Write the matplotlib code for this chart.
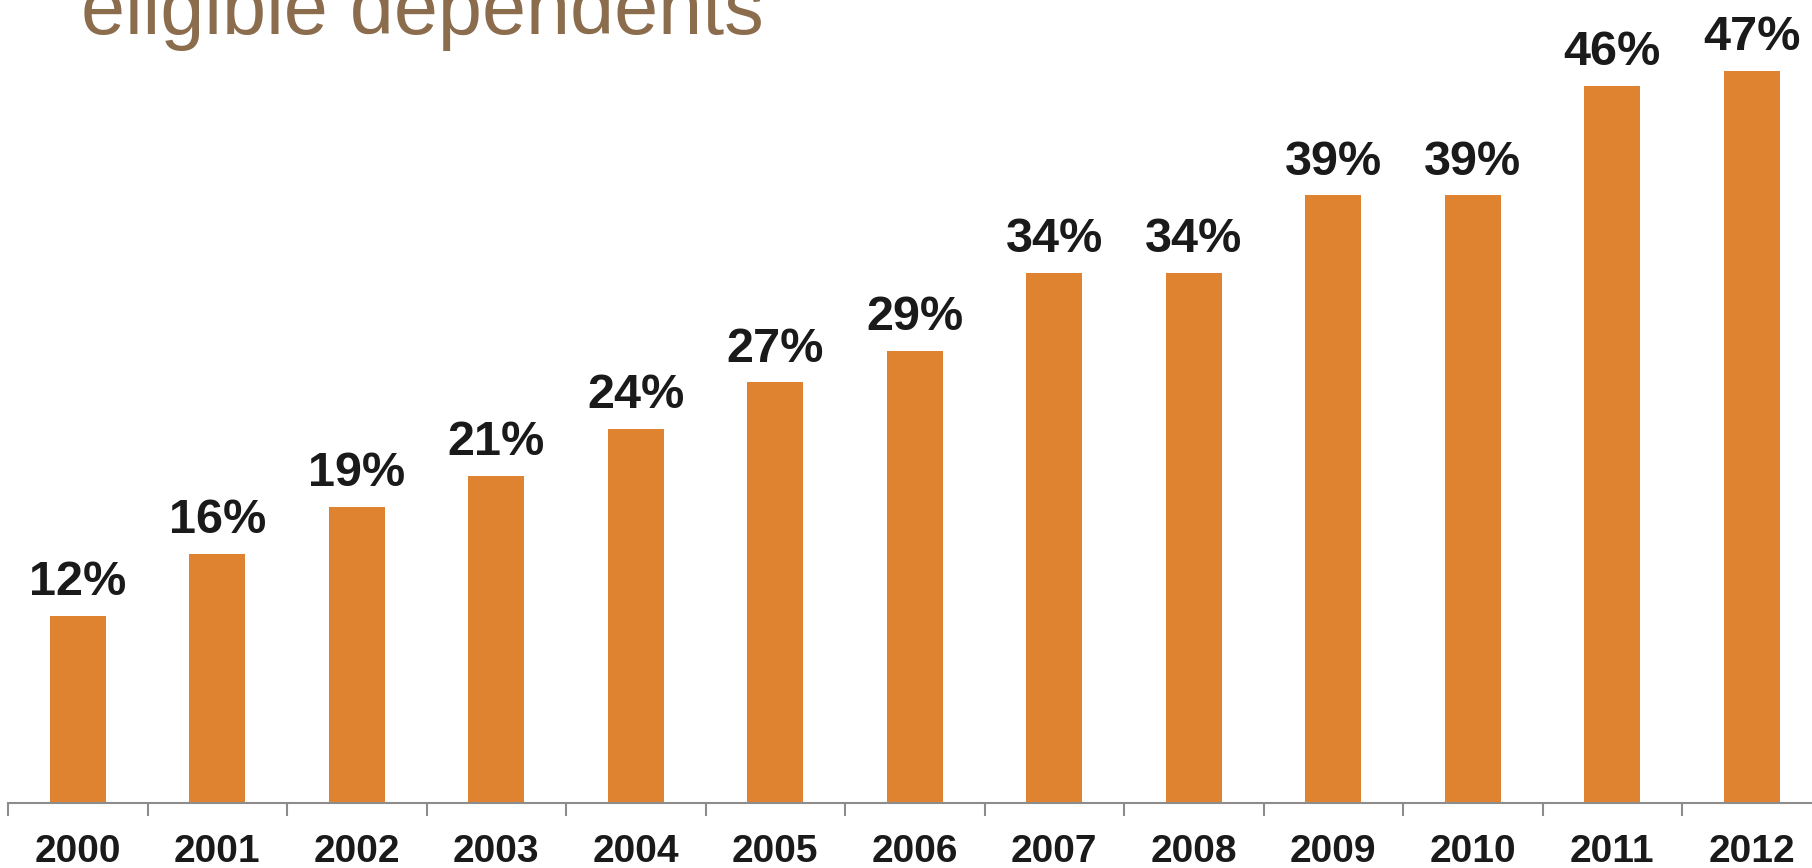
import matplotlib.pyplot as plt
import numpy as np

years = ['2000', '2001', '2002', '2003', '2004', '2005', '2006',
         '2007', '2008', '2009', '2010', '2011', '2012']
shares = [12, 16, 19, 21, 24, 27, 29, 34, 34, 39, 39, 46, 47]
title = 'eligible dependents'

BAR = '#E08331'
TXT = '#1a1a1a'
AXIS = '#8c8c8c'
TITLE_C = '#8B6D4E'

plt.rcParams['font.family'] = ['Liberation Sans', 'DejaVu Sans']

W, H = 1812, 868
fig = plt.figure(figsize=(W / 100, H / 100), dpi=100)

# axis runs off the right edge like in the original slide
step = 139.5
left_px = 8
right_px = left_px + step * len(years)
ax = fig.add_axes([left_px / W, 65 / H, (right_px - left_px) / W, 803 / H])

x = np.arange(len(years))
ax.bar(x, shares, width=0.4, color=BAR)
ax.set_xlim(-0.5, len(years) - 0.5)
ax.set_ylim(0, 803 / 15.58)

for xi, v in zip(x, shares):
    ax.annotate(f'{v}%', (xi, v), xytext=(0, 15), textcoords='offset points',
                ha='center', va='baseline', fontsize=35, fontweight='bold',
                color=TXT)

for s in ['top', 'right', 'left']:
    ax.spines[s].set_visible(False)
ax.spines['bottom'].set_color(AXIS)
ax.spines['bottom'].set_linewidth(1.5)
ax.set_yticks([])

ax.set_xticks(np.arange(len(years) + 1) - 0.5)
ax.set_xticklabels([])
ax.tick_params(axis='x', which='major', direction='out', length=9,
               width=1.5, color=AXIS)
ax.set_xticks(x, minor=True)
ax.set_xticklabels(years, minor=True, fontsize=28, fontweight='bold', color=TXT)
ax.tick_params(axis='x', which='minor', length=0, pad=22)

fig.text(81 / W, (H - 34) / H, title, fontsize=57, color=TITLE_C,
         ha='left', va='baseline')

fig.savefig('out.png', dpi=100)
